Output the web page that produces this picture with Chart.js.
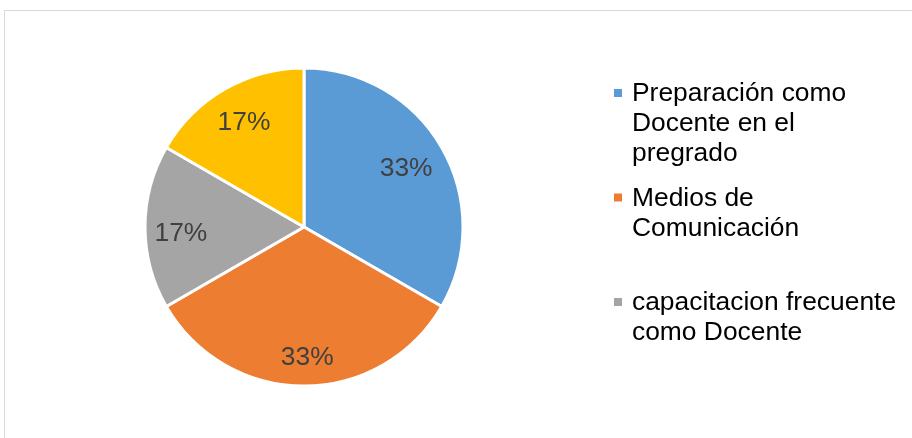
<!DOCTYPE html>
<html lang="es">
<head>
    <meta charset="UTF-8">
    <title>Formación docente</title>
    <script src="https://cdn.jsdelivr.net/npm/chart.js"></script>
    <style>
        html, body {
            margin: 0;
            padding: 0;
            background: #fff;
            overflow: hidden;
        }
        .frame {
            position: absolute;
            left: 4px;
            top: 10px;
            width: 1000px;
            height: 1000px;
            border: 1px solid #d9d9d9;
        }
        #chart-box {
            position: absolute;
            left: 0;
            top: 0;
            width: 912px;
            height: 438px;
        }
    </style>
</head>
<body>
    <div class="frame"></div>
    <div id="chart-box">
        <canvas id="pieChart"></canvas>
    </div>

    <script>
        // categorias (cada linea del texto de la leyenda)
        const categories = [
            ['Preparación como', 'Docente en el', 'pregrado'],
            ['Medios de', 'Comunicación'],
            ['capacitacion frecuente', 'como Docente'],
            ['Otros']
        ];
        const responses = [2, 2, 1, 1];
        const sliceColors = ['#5B9BD5', '#ED7D31', '#A5A5A5', '#FFC000'];

        // porcentajes dentro de cada sector
        const pctLabels = {
            id: 'pctLabels',
            afterDatasetsDraw(chart, args, opts) {
                const ctx = chart.ctx;
                const meta = chart.getDatasetMeta(0);
                const data = chart.data.datasets[0].data;
                const total = data.reduce((a, b) => a + b, 0);
                ctx.save();
                ctx.font = opts.size + 'px "Liberation Sans", Arial, sans-serif';
                ctx.fillStyle = opts.color;
                ctx.textAlign = 'center';
                ctx.textBaseline = 'middle';
                meta.data.forEach((arc, i) => {
                    const p = arc.getProps(['x', 'y', 'startAngle', 'endAngle', 'outerRadius'], true);
                    const mid = (p.startAngle + p.endAngle) / 2 + (opts.shift[i] || 0);
                    const r = p.outerRadius * opts.dist[i];
                    const txt = Math.round(data[i] / total * 100) + '%';
                    ctx.fillText(txt, p.x + Math.cos(mid) * r, p.y + Math.sin(mid) * r + 1);
                });
                ctx.restore();
            }
        };

        // leyenda a la derecha, entradas con espacio fijo; las que no caben se omiten
        const sideLegend = {
            id: 'sideLegend',
            afterDraw(chart, args, opts) {
                const ctx = chart.ctx;
                const labels = chart.data.labels;
                const colors = chart.data.datasets[0].backgroundColor;
                ctx.save();
                ctx.font = opts.size + 'px "Liberation Sans", Arial, sans-serif';
                ctx.textAlign = 'left';
                ctx.textBaseline = 'middle';
                labels.forEach((lines, i) => {
                    const y0 = opts.top + i * opts.slot;
                    const last = y0 + (lines.length - 1) * opts.lineHeight + opts.lineHeight / 2;
                    if (last > opts.bottom) return;
                    ctx.fillStyle = colors[i];
                    ctx.fillRect(opts.x, y0 - opts.box / 2, opts.box, opts.box);
                    ctx.fillStyle = opts.color;
                    lines.forEach((ln, k) => {
                        ctx.fillText(ln, opts.textX, y0 + k * opts.lineHeight + 1);
                    });
                });
                ctx.restore();
            }
        };

        const ctx = document.getElementById('pieChart').getContext('2d');
        new Chart(ctx, {
            type: 'pie',
            data: {
                labels: categories,
                datasets: [{
                    data: responses,
                    backgroundColor: sliceColors,
                    borderColor: '#ffffff',
                    borderWidth: 3
                }]
            },
            options: {
                responsive: true,
                maintainAspectRatio: false,
                animation: false,
                radius: 159,
                layout: {
                    padding: { left: 0, right: 304, top: 16, bottom: 0 }
                },
                plugins: {
                    legend: { display: false },
                    tooltip: { enabled: false },
                    pctLabels: {
                        size: 26.4,
                        color: '#404040',
                        dist: [0.742, 0.818, 0.775, 0.762],
                        shift: [0, -0.025, -0.05, 0.005]
                    },
                    sideLegend: {
                        x: 614,
                        textX: 632,
                        top: 93,
                        slot: 104.5,
                        lineHeight: 29.8,
                        box: 8,
                        bottom: 400,
                        size: 26.4,
                        color: '#000000'
                    }
                }
            },
            plugins: [pctLabels, sideLegend]
        });
    </script>
</body>
</html>
